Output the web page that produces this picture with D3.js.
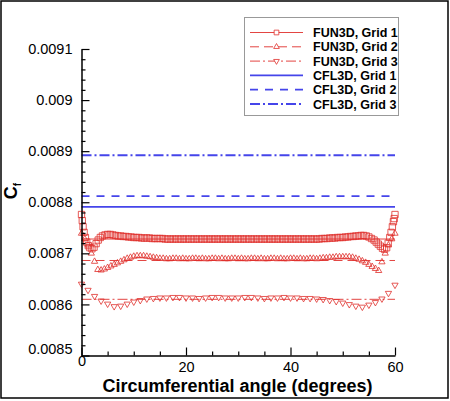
<!DOCTYPE html>
<html>
<head>
<meta charset="utf-8">
<script src="https://cdn.jsdelivr.net/npm/d3@7"></script>
<style>
  body { margin: 0; background: #fff; }
  text { font-family: "Liberation Sans", Arial, Helvetica, sans-serif; }
</style>
</head>
<body>
<div id="chart"></div>
<script>
// ---- data ----
const grid1Angle = [0,0.15,0.3,0.5,0.75,1,1.3,1.6,2,2.4,2.8,3.2,3.6,4,4.5,5,5.5,6,
  6.5,7,7.5,8,8.5,9,9.5,10,10.5,11,11.5,12,12.5,13,13.5,14,14.5,15,15.5,16,16.5,17,17.5,18,18.5,19,19.5,20,
  20.5,21,21.5,22,22.5,23,23.5,24,24.5,25,25.5,26,26.5,27,27.5,28,28.5,29,29.5,30,30.5,31,31.5,32,32.5,33,
  33.5,34,34.5,35,35.5,36,36.5,37,37.5,38,38.5,39,39.5,40,40.5,41,41.5,42,42.5,43,43.5,44,44.5,45,45.5,46,
  46.5,47,47.5,48,48.5,49,49.5,50,50.5,51,51.5,52,52.5,53,53.5,
  54,54.5,55,55.5,56,56.4,56.8,57.2,57.6,58,58.4,58.7,59,59.25,59.5,59.7,59.85,60];
const grid1Cf = [0.008776,0.008764,0.008752,0.008741,0.008731,0.008722,0.008715,0.008711,0.008709,0.008712,0.008719,0.008726,0.008731,0.008734,0.008736,0.008737,0.008737,0.008736,
  0.008735,0.008734,0.008734,0.008733,0.008733,0.008732,0.008732,0.008731,0.008731,0.008731,0.008730,0.008730,0.008730,0.008730,0.008729,0.008729,0.008729,0.008729,0.008729,
  0.008728,0.008728,0.008728,0.008728,0.008728,0.008728,0.008728,0.008728,0.008728,0.008728,0.008728,0.008728,0.008728,0.008728,0.008728,
  0.008728,0.008728,0.008728,0.008728,0.008728,0.008728,0.008728,0.008728,0.008728,0.008728,0.008728,0.008728,0.008728,0.008728,0.008728,
  0.008728,0.008728,0.008728,0.008728,0.008728,0.008728,0.008728,0.008728,0.008728,0.008728,0.008728,0.008728,0.008728,0.008728,0.008728,
  0.008728,0.008728,0.008728,0.008728,0.008728,0.008728,0.008728,0.008728,0.008728,0.008728,0.008728,0.008728,0.008728,0.008728,0.008728,
  0.008729,0.008729,0.008729,0.008730,0.008730,0.008730,0.008731,0.008731,0.008731,0.008732,0.008732,0.008733,0.008733,0.008734,0.008734,0.008735,
  0.008735,0.008734,0.008732,0.008729,0.008726,0.008722,0.008718,0.008714,0.008710,0.008708,0.008711,0.008720,0.008731,0.008741,0.008752,0.008762,0.008768,0.008776];

const grid2Angle = [0,0.625,1.25,1.875,2.5,3.125,3.75,4.375,5,5.625,6.25,6.875,7.5,8.125,8.75,9.375,10,10.625,11.25,11.875,
  12.5,13.125,13.75,14.375,15,15.625,16.25,16.875,17.5,18.125,18.75,19.375,20,20.625,21.25,21.875,22.5,23.125,23.75,24.375,
  25,25.625,26.25,26.875,27.5,28.125,28.75,29.375,30,30.625,31.25,31.875,32.5,33.125,33.75,34.375,35,35.625,36.25,36.875,
  37.5,38.125,38.75,39.375,40,40.625,41.25,41.875,42.5,43.125,43.75,44.375,45,45.625,46.25,46.875,47.5,48.125,48.75,49.375,
  50,50.625,51.25,51.875,52.5,53.125,53.75,54.375,55,55.625,56.25,56.875,57.5,58.125,58.75,59.375,60];
const grid2Cf = [0.008739,0.008728,0.008716,0.008700,0.008684,0.008668,0.008667,0.008669,0.008672,0.008675,0.008678,0.008681,0.008684,
  0.008687,0.008690,0.008692,0.008694,0.008695,0.008695,0.008695,0.008694,0.008693,0.008692,0.008691,0.008690,
  0.008690,0.008689,0.008689,0.008690,0.008690,0.008689,0.008690,0.008689,0.008689,0.008690,0.008690,0.008689,
  0.008690,0.008689,0.008689,0.008690,0.008690,0.008689,0.008690,0.008689,0.008689,0.008690,0.008690,0.008689,
  0.008690,0.008689,0.008689,0.008690,0.008690,0.008689,0.008690,0.008689,0.008689,0.008690,0.008690,0.008689,
  0.008690,0.008689,0.008689,0.008690,0.008690,0.008689,0.008690,0.008689,0.008689,0.008690,0.008690,0.008689,
  0.008690,0.008691,0.008691,0.008692,0.008692,0.008693,0.008693,
  0.008693,0.008693,0.008693,0.008692,0.008690,0.008688,0.008685,0.008682,0.008678,0.008674,0.008670,0.008666,
  0.008683,0.008700,0.008716,0.008728,0.008739];

const grid3Angle = [0,1.25,2.5,3.75,5,6.25,7.5,8.75,10,11.25,12.5,13.75,15,16.25,17.5,18.75,20,21.25,22.5,23.75,
  25,26.25,27.5,28.75,30,31.25,32.5,33.75,35,36.25,37.5,38.75,40,41.25,42.5,43.75,45,46.25,47.5,48.75,
  50,51.25,52.5,53.75,55,56.25,57.5,58.75,60];
const grid3Cf = [0.008640,0.008628,0.008616,0.008607,0.008601,0.008596,0.008597,0.008601,0.008605,0.008608,0.008611,0.008612,0.008613,
  0.008613,0.008614,0.008614,0.008613,0.008613,0.008612,0.008613,0.008614,0.008614,0.008613,
  0.008613,0.008613,0.008614,0.008614,0.008613,0.008612,0.008613,0.008613,0.008614,0.008613,
  0.008613,0.008612,0.008612,0.008611,0.008610,0.008608,0.008606,0.008603,0.008600,0.008597,0.008595,0.008599,
  0.008604,0.008611,0.008622,0.008638];

// constant levels: FUN3D reference lines and CFL3D results (Grid 1, 2, 3)
const fun3dLevel = [0.008728, 0.008686, 0.008610];
const cfl3dLevel = [0.008791, 0.008812, 0.008892];

const legendNames = ["FUN3D, Grid 1", "FUN3D, Grid 2", "FUN3D, Grid 3",
                     "CFL3D, Grid 1", "CFL3D, Grid 2", "CFL3D, Grid 3"];
const xTicks = [0, 20, 40, 60];
const xMinorTicks = [5, 10, 15, 25, 30, 35, 45, 50, 55];
const yTicks = [0.0085, 0.0086, 0.0087, 0.0088, 0.0089, 0.009, 0.0091];

// ---- setup ----
const width = 450, height = 401;
const red = "#e0302c", blue = "#4545ea";
const font = "'Liberation Sans', Arial, Helvetica, sans-serif";

const svg = d3.select("#chart").append("svg")
  .attr("width", width)
  .attr("height", height);

svg.append("rect")
  .attr("x", 1).attr("y", 1)
  .attr("width", 447).attr("height", 397)
  .attr("fill", "#fff")
  .attr("stroke", "#000")
  .attr("stroke-width", 1.5);

const x = d3.scaleLinear().domain([0, 60]).range([81.5, 395]);
const y = d3.scaleLinear().domain([0.0085, 0.0091]).range([355.5, 49]);

// minor y ticks, every 0.00002
const yMinor = [];
yTicks.slice(0, -1).forEach(t => {
  for (let k = 1; k < 5; k++) yMinor.push(t + k * 0.00002);
});

// ---- lines ----
const hline = (v, dash, color, w) => {
  svg.append("line")
    .attr("x1", x(0)).attr("x2", x(60))
    .attr("y1", y(v)).attr("y2", y(v))
    .attr("stroke", color)
    .attr("stroke-width", w)
    .attr("stroke-dasharray", dash);
};

const redDash = [null, "9,5", "10,3,2,3"];
const blueDash = [null, "8,7", "10,3,2,3"];
fun3dLevel.forEach((v, i) => hline(v, redDash[i], red, 0.9));
cfl3dLevel.forEach((v, i) => hline(v, blueDash[i], blue, 1.8));

// ---- markers ----
const square = d3.symbol().type(d3.symbolSquare).size(40);
const tri = d3.symbol().type(d3.symbolTriangle).size(17);

function markers(angles, values, path, rot) {
  svg.append("g")
    .selectAll("path")
    .data(angles.map((a, i) => [a, values[i]]))
    .join("path")
    .attr("d", path)
    .attr("transform", d => `translate(${x(d[0])},${y(d[1])}) rotate(${rot})`)
    .attr("fill", "none")
    .attr("stroke", red)
    .attr("stroke-width", 0.8);
}

markers(grid1Angle, grid1Cf, square, 0);
markers(grid2Angle, grid2Cf, tri, 0);
markers(grid3Angle, grid3Cf, tri, 180);

// ---- axes ----
const fmt = d => String(+d.toFixed(4));

const yAxis = svg.append("g")
  .attr("transform", `translate(${x(0)},0)`)
  .call(d3.axisLeft(y).tickValues(yTicks).tickFormat(fmt)
    .tickSizeInner(-8).tickSizeOuter(0).tickPadding(9));
svg.append("g")
  .attr("transform", `translate(${x(0)},0)`)
  .call(d3.axisLeft(y).tickValues(yMinor).tickFormat("")
    .tickSizeInner(-4).tickSizeOuter(0))
  .select(".domain").remove();

const xAxis = svg.append("g")
  .attr("transform", `translate(0,${y(0.0085)})`)
  .call(d3.axisBottom(x).tickValues(xTicks).tickFormat(d3.format("d"))
    .tickSizeInner(-8).tickSizeOuter(0).tickPadding(6));
svg.append("g")
  .attr("transform", `translate(0,${y(0.0085)})`)
  .call(d3.axisBottom(x).tickValues(xMinorTicks).tickFormat("")
    .tickSizeInner(-4).tickSizeOuter(0))
  .select(".domain").remove();

[yAxis, xAxis].forEach(a => a.attr("font-size", 14.5).attr("font-family", font));
svg.selectAll(".domain").attr("stroke-width", 1.5);
svg.selectAll(".tick line").attr("stroke-width", 1.2);
svg.selectAll(".tick text")
  .attr("font-size", 14.5)
  .style("font-size", "14.5px")
  .attr("fill", "#000");

// first labels are lifted off the corner
yAxis.selectAll(".tick text").filter(d => d === 0.0085).attr("y", -7);
xAxis.selectAll(".tick text").filter(d => d === 0).attr("y", 0.5);

// ---- titles ----
svg.append("text")
  .attr("x", 237.5).attr("y", 391.5)
  .attr("text-anchor", "middle")
  .style("font-size", "18px")
  .style("font-weight", "bold")
  .text("Circumferential angle (degrees)");

const yt = svg.append("text")
  .attr("transform", "translate(17,191) rotate(-90)")
  .attr("text-anchor", "middle")
  .style("font-size", "18px")
  .style("font-weight", "bold");
yt.append("tspan").text("C");
yt.append("tspan").attr("dy", 4).style("font-size", "10px").text("f");

// ---- legend ----
const legendSquare = d3.symbol().type(d3.symbolSquare).size(22);
const legendTri = d3.symbol().type(d3.symbolTriangle).size(14);

const lg = svg.append("g");
lg.append("rect")
  .attr("x", 244.5).attr("y", 17.5)
  .attr("width", 154).attr("height", 98)
  .attr("fill", "#fff")
  .attr("stroke", "#999")
  .attr("stroke-width", 1);

legendNames.forEach((name, i) => {
  const ry = 32.5 + i * 14.3;
  const isFun = i < 3;
  lg.append("line")
    .attr("x1", 250).attr("x2", 303)
    .attr("y1", ry).attr("y2", ry)
    .attr("stroke", isFun ? red : blue)
    .attr("stroke-width", isFun ? 0.9 : 1.8)
    .attr("stroke-dasharray", isFun ? redDash[i] : blueDash[i - 3]);
  if (isFun) {
    lg.append("path")
      .attr("d", i === 0 ? legendSquare() : legendTri())
      .attr("transform", `translate(276.5,${ry}) rotate(${i === 2 ? 180 : 0})`)
      .attr("fill", "#fff")
      .attr("stroke", red)
      .attr("stroke-width", 0.8);
  }
  lg.append("text")
    .attr("x", 313).attr("y", ry)
    .attr("dy", "0.36em")
    .style("font-size", "12.5px")
    .style("font-weight", "bold")
    .text(name);
});
</script>
</body>
</html>
